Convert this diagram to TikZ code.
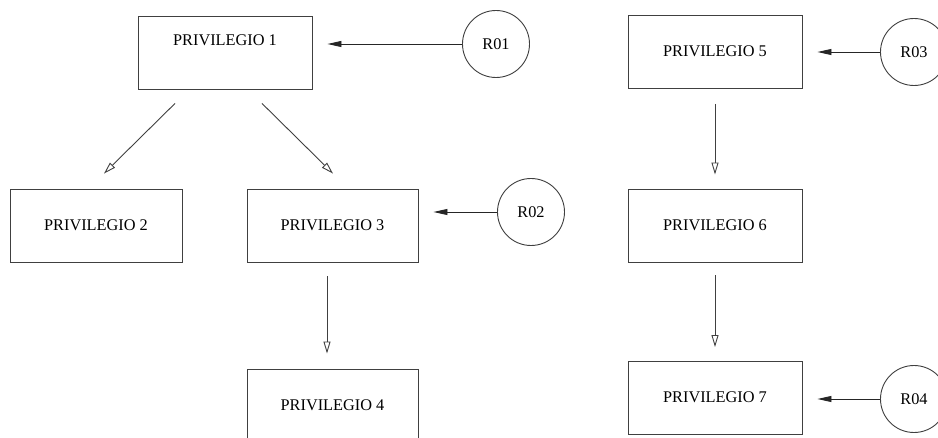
\documentclass[tikz,border=0pt]{standalone}
\usepackage{fontspec}
\setmainfont{Liberation Serif}
\usetikzlibrary{arrows.meta}
\begin{document}
\begin{tikzpicture}[x=1pt,y=-1pt,
  every node/.style={font=\fontsize{16.3}{19}\selectfont},
  pbox/.style={draw=black!75,line width=0.9pt,rectangle,minimum width=174pt,minimum height=73pt,inner sep=0pt,text height=13pt,text depth=3pt},
  rcirc/.style={draw=black!75,line width=0.9pt,circle,minimum size=67pt,inner sep=0pt},
  hier/.style={draw=black!75,line width=0.9pt,-{Triangle[open,length=12pt,width=7pt]}},
  rolearrow/.style={draw=black!85,line width=0.9pt,-{Triangle[length=14pt,width=6pt]},shorten >=15pt}
]
\clip (0,0) rectangle (938,438);
\fill[white] (0,0) rectangle (938,438);
% privilege boxes
\node[pbox,text depth=26pt] (p1) at (225,52.5) {PRIVILEGIO 1};
\node[pbox,minimum width=172pt] (p2) at (96,225.5) {PRIVILEGIO 2};
\node[pbox,minimum width=171pt] (p3) at (332.5,225.5) {PRIVILEGIO 3};
\node[pbox,minimum width=171pt] (p4) at (332.5,405.5) {PRIVILEGIO 4};
\node[pbox] (p5) at (715,52) {PRIVILEGIO 5};
\node[pbox] (p6) at (715,225.5) {PRIVILEGIO 6};
\node[pbox] (p7) at (715,398) {PRIVILEGIO 7};
% role circles
\node[rcirc] (r1) at (496,44) {R01};
\node[rcirc] (r2) at (531,212) {R02};
\node[rcirc] (r3) at (914,52) {R03};
\node[rcirc] (r4) at (914,399) {R04};
% hierarchy arrows
\draw[hier] ([xshift=-50pt,yshift=-14pt]p1.south) -- ([xshift=8pt,yshift=15pt]p2.north);
\draw[hier] ([xshift=37pt,yshift=-14pt]p1.south) -- ([xshift=0.5pt,yshift=15pt]p3.north);
\draw[hier] ([xshift=-5.5pt,yshift=-14pt]p3.south) -- ([xshift=-5.5pt,yshift=15pt]p4.north);
\draw[hier] ([yshift=-15pt]p5.south) -- ([yshift=14pt]p6.north);
\draw[hier] ([yshift=-13pt]p6.south) -- ([yshift=14pt]p7.north);
% role assignment arrows
\draw[rolearrow] (r1) -- (r1 -| p1.east);
\draw[rolearrow] (r2) -- (r2 -| p3.east);
\draw[rolearrow] (r3) -- (r3 -| p5.east);
\draw[rolearrow] (r4) -- (r4 -| p7.east);
\end{tikzpicture}
\end{document}
